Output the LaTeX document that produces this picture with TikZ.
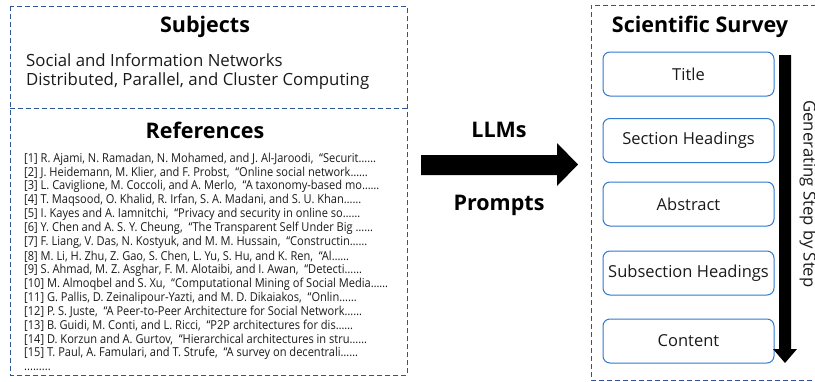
\documentclass[tikz,border=0pt]{standalone}
\usepackage{fontspec}
\setmainfont{Open Sans}
\newfontfamily\reffont[FakeStretch=0.9]{Open Sans}
\usetikzlibrary{positioning}
\definecolor{dashblue}{HTML}{2F5597}
\definecolor{boxblue}{HTML}{2E7BD0}
\definecolor{txt}{HTML}{1A1A1A}
\tikzset{
  frame/.style={draw=dashblue, line width=0.9pt, dash pattern=on 5pt off 3pt},
  stepbox/.style={draw=boxblue, line width=1pt, rounded corners=7pt, minimum width=171pt, minimum height=44pt, inner sep=0pt, font=\fontsize{16.5}{18}\selectfont, text=txt},
  heading/.style={font=\fontsize{21.5}{24}\selectfont\bfseries, text=black, inner sep=0pt},
  subj/.style={font=\fontsize{16.8}{20}\selectfont, text=txt, anchor=west, inner sep=0pt},
  ref/.style={font=\reffont\fontsize{12.3}{14}\selectfont, text=txt, anchor=west, inner sep=0pt},
}
\begin{document}
\begin{tikzpicture}[x=1pt,y=-1pt]
\useasboundingbox (0,0) rectangle (815,381);
% left frame
\draw[frame] (10,6) rectangle (407,375);
\draw[frame] (10,108) -- (407,108);
% right frame
\draw[frame] (840,5) -- (591,5) -- (591,380) -- (840,380);

\node[heading] (subjects) at (205,27) {Subjects};
\node[subj] (s1) at (26,60) {Social and Information Networks};
\node[subj] (s2) at (26,81) {Distributed, Parallel, and Cluster Computing};

\node[heading] (references) at (205,130) {References};
\node[ref] (r1) at (24,159) {[1] R. Ajami, N. Ramadan, N. Mohamed, and J. Al-Jaroodi,\ \ “Securit……};
\node[ref] (r2) at (24,172.9) {[2] J. Heidemann, M. Klier, and F. Probst,\ \ “Online social network……};
\node[ref] (r3) at (24,186.8) {[3] L. Caviglione, M. Coccoli, and A. Merlo,\ \ “A taxonomy-based mo……};
\node[ref] (r4) at (24,200.7) {[4] T. Maqsood, O. Khalid, R. Irfan, S. A. Madani, and S. U. Khan……};
\node[ref] (r5) at (24,214.6) {[5] I. Kayes and A. Iamnitchi,\ \ “Privacy and security in online so……};
\node[ref] (r6) at (24,228.5) {[6] Y. Chen and A. S. Y. Cheung,\ \ “The Transparent Self Under Big ……};
\node[ref] (r7) at (24,242.4) {[7] F. Liang, V. Das, N. Kostyuk, and M. M. Hussain,\ \ “Constructin……};
\node[ref] (r8) at (24,256.3) {[8] M. Li, H. Zhu, Z. Gao, S. Chen, L. Yu, S. Hu, and K. Ren,\ \ “Al……};
\node[ref] (r9) at (24,270.2) {[9] S. Ahmad, M. Z. Asghar, F. M. Alotaibi, and I. Awan,\ \ “Detecti……};
\node[ref] (r10) at (24,284.1) {[10] M. Almoqbel and S. Xu,\ \ “Computational Mining of Social Media……};
\node[ref] (r11) at (24,298) {[11] G. Pallis, D. Zeinalipour-Yazti, and M. D. Dikaiakos,\ \ “Onlin……};
\node[ref] (r12) at (24,311.9) {[12] P. S. Juste,\ \ “A Peer-to-Peer Architecture for Social Network……};
\node[ref] (r13) at (24,325.8) {[13] B. Guidi, M. Conti, and L. Ricci,\ \ “P2P architectures for dis……};
\node[ref] (r14) at (24,339.7) {[14] D. Korzun and A. Gurtov,\ \ “Hierarchical architectures in stru……};
\node[ref] (r15) at (24,353.6) {[15] T. Paul, A. Famulari, and T. Strufe,\ \ “A survey on decentrali……};
\node[ref] (rdots) at (24,370) {.........};

% big arrow
\node[heading] (llms) at (499,130) {LLMs};
\node[heading] (prompts) at (499,205) {Prompts};
\fill[black] (421,155) -- (557,155) -- (557,143) -- (578,164.5) -- (557,186) -- (557,175) -- (421,175) -- cycle;

% right side
\node[heading] (survey) at (700,27) {Scientific Survey};
\node[stepbox] (title) at (688.5,74) {Title};
\node[stepbox] (sec) at (688.5,140.5) {Section Headings};
\node[stepbox] (abs) at (688.5,204) {Abstract};
\node[stepbox] (subsec) at (688.5,273) {Subsection Headings};
\node[stepbox] (content) at (688.5,341) {Content};

\fill[black] (779,55) -- (791,55) -- (791,349) -- (797,349) -- (785,363) -- (773,349) -- (779,349) -- cycle;
\node[rotate=-90, font=\fontsize{16.7}{18}\selectfont, text=txt, inner sep=0pt] (gen) at (808,194) {Generating Step by Step};
\end{tikzpicture}
\end{document}
